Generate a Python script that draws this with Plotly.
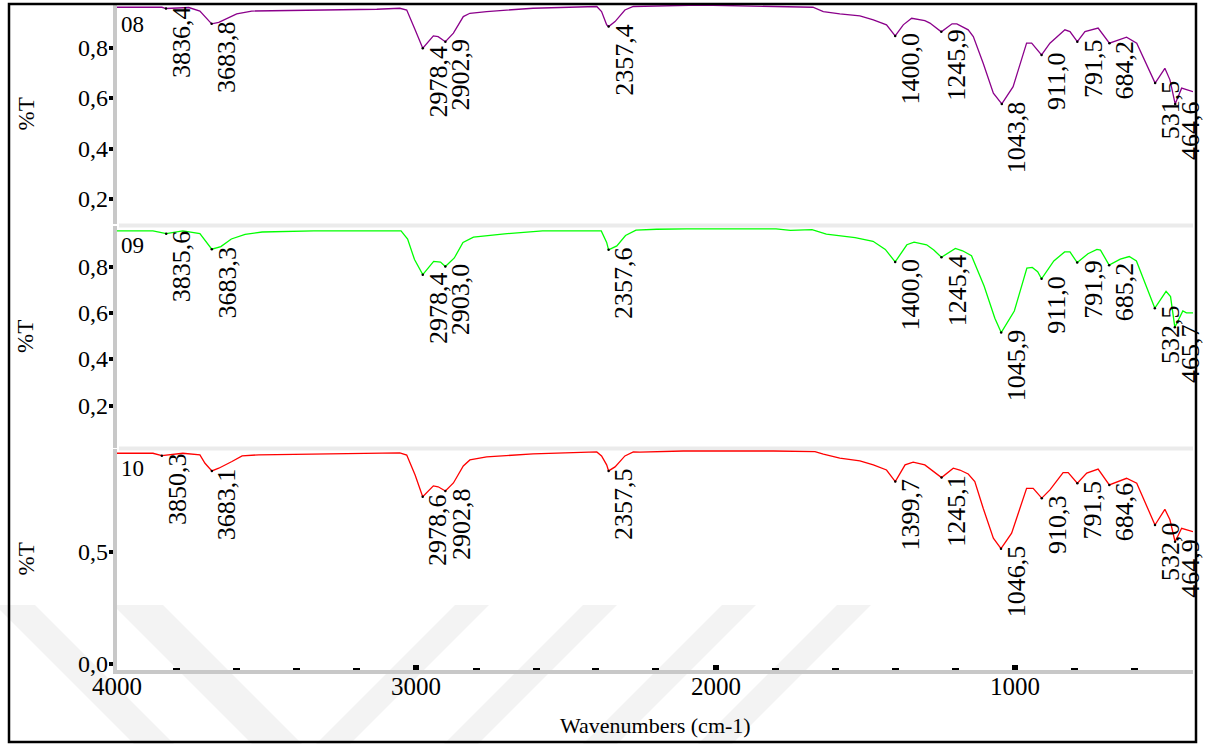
import plotly.graph_objects as go

W, H = 1205, 744
FONT = "'Liberation Serif', 'Times New Roman', Times, serif"

# ---- spectra: wavenumber (cm-1) and transmittance ----
wn_08 = [4000, 3850, 3836.4, 3760, 3723, 3683.8, 3660, 3600, 3550, 3400,
         3132, 3055, 3032, 3004, 2978.4, 2943, 2927, 2902.9, 2876, 2843,
         2821, 2765, 2610, 2397, 2381, 2364, 2357.4, 2336, 2303, 2275,
         2052, 1675, 1640, 1585, 1518, 1473, 1429, 1400.0, 1373, 1345,
         1301, 1284, 1245.9, 1210, 1194, 1156, 1139, 1106, 1072, 1043.8,
         1006, 961, 944, 911.0, 883, 833, 816, 791.5, 766, 722,
         684.2, 627, 593, 531.5, 499, 482, 464.6, 443, 405]
t_08 = [0.963, 0.963, 0.958, 0.962, 0.948, 0.897, 0.903, 0.937, 0.948, 0.950,
        0.955, 0.959, 0.952, 0.873, 0.800, 0.849, 0.846, 0.826, 0.860, 0.926,
        0.939, 0.946, 0.959, 0.966, 0.946, 0.893, 0.886, 0.906, 0.952, 0.966,
        0.972, 0.963, 0.946, 0.937, 0.929, 0.913, 0.893, 0.849, 0.893, 0.919,
        0.910, 0.900, 0.865, 0.897, 0.897, 0.873, 0.846, 0.740, 0.621, 0.578,
        0.647, 0.820, 0.820, 0.773, 0.820, 0.873, 0.866, 0.826, 0.866, 0.880,
        0.820, 0.844, 0.820, 0.661, 0.720, 0.674, 0.578, 0.641, 0.627]

wn_09 = [4000, 3880, 3835.6, 3780, 3723, 3683.3, 3653, 3618, 3572, 3515,
         3342, 3051, 3029, 3006, 2978.4, 2942, 2919, 2903.0, 2873, 2844,
         2809, 2705, 2578, 2382, 2364, 2357.6, 2330, 2301, 2266, 2197,
         2097, 1798, 1750, 1678, 1630, 1534, 1474, 1433, 1400.0, 1361,
         1337, 1295, 1271, 1245.4, 1199, 1175, 1145, 1103, 1067, 1045.9,
         1002, 960, 942, 924, 911.0, 870, 834, 816, 791.9, 756,
         726, 714, 685.2, 648, 618, 594, 532.5, 495, 480, 465.7,
         439, 427, 405]
t_09 = [0.955, 0.955, 0.943, 0.955, 0.943, 0.876, 0.887, 0.920, 0.940, 0.950,
        0.955, 0.955, 0.920, 0.831, 0.766, 0.823, 0.820, 0.801, 0.838, 0.905,
        0.928, 0.942, 0.955, 0.955, 0.905, 0.873, 0.890, 0.935, 0.958, 0.962,
        0.964, 0.964, 0.957, 0.960, 0.941, 0.926, 0.910, 0.875, 0.821, 0.895,
        0.906, 0.895, 0.872, 0.841, 0.879, 0.869, 0.848, 0.717, 0.578, 0.516,
        0.609, 0.794, 0.797, 0.779, 0.748, 0.825, 0.864, 0.864, 0.818, 0.856,
        0.875, 0.872, 0.807, 0.833, 0.844, 0.825, 0.621, 0.694, 0.671, 0.539,
        0.609, 0.601, 0.601]

wn_10 = [4000, 3880, 3850.3, 3780, 3723, 3706, 3683.1, 3660, 3616, 3582,
         3526, 3392, 3055, 3032, 3004, 2978.6, 2943, 2927, 2902.8, 2876,
         2843, 2821, 2765, 2610, 2397, 2381, 2364, 2357.5, 2336, 2303,
         2275, 2253, 2108, 1807, 1668, 1640, 1585, 1518, 1473, 1429,
         1399.7, 1367, 1340, 1301, 1278, 1245.1, 1206, 1184, 1156, 1134,
         1106, 1072, 1046.5, 1011, 961, 939, 910.3, 883, 839, 822,
         791.5, 760, 722, 684.6, 627, 593, 532.0, 499, 482, 464.9,
         443, 405]
t_10 = [0.943, 0.943, 0.932, 0.943, 0.936, 0.898, 0.864, 0.876, 0.906, 0.931,
        0.936, 0.939, 0.945, 0.935, 0.846, 0.748, 0.797, 0.793, 0.774, 0.810,
        0.886, 0.913, 0.927, 0.940, 0.949, 0.931, 0.891, 0.864, 0.882, 0.931,
        0.949, 0.948, 0.953, 0.953, 0.950, 0.939, 0.921, 0.909, 0.891, 0.868,
        0.816, 0.891, 0.903, 0.891, 0.868, 0.834, 0.876, 0.868, 0.850, 0.816,
        0.697, 0.563, 0.516, 0.585, 0.786, 0.786, 0.742, 0.779, 0.856, 0.856,
        0.809, 0.854, 0.872, 0.801, 0.831, 0.809, 0.622, 0.692, 0.645, 0.547,
        0.607, 0.592]

# labelled band positions
peaks_08 = [3836.4, 3683.8, 2978.4, 2902.9, 2357.4, 1400.0, 1245.9, 1043.8,
            911.0, 791.5, 684.2, 531.5, 464.6]
peaks_09 = [3835.6, 3683.3, 2978.4, 2903.0, 2357.6, 1400.0, 1245.4, 1045.9,
            911.0, 791.9, 685.2, 532.5, 465.7]
peaks_10 = [3850.3, 3683.1, 2978.6, 2902.8, 2357.5, 1399.7, 1245.1, 1046.5,
            910.3, 791.5, 684.6, 532.0, 464.9]

# axis ticks
x_major = [4000, 3000, 2000, 1000]
x_minor = [3800, 3600, 3400, 3200, 2800, 2600, 2400, 2200,
           1800, 1600, 1400, 1200, 800, 600]
y_ticks_upper = [0.2, 0.4, 0.6, 0.8]
y_ticks_lower = [0.0, 0.5]


def dec(v):
    return f"{v:.1f}".replace(".", ",")


def paper_x(p):
    return p / W


def paper_y(p):
    return 1 - p / H


def txt(size):
    return dict(family=FONT, size=size, color="black")


# panels: (name, wn, T, peaks, colour, y axis id, y range, y domain px, ticks)
panels = [
    ("08", wn_08, t_08, peaks_08, "#8b008b", "y3", [0.100, 0.972], (5, 224), y_ticks_upper),
    ("09", wn_09, t_09, peaks_09, "#00ff00", "y2", [0.0175, 0.976], (226, 448), y_ticks_upper),
    ("10", wn_10, t_10, peaks_10, "#ff0000", "y", [-0.027, 0.962], (449, 670), y_ticks_lower),
]

fig = go.Figure()
annotations = []
layout_axes = {}

for name, wn, tt, peaks, colour, yid, yrange, (ptop, pbot), yt in panels:
    fig.add_trace(go.Scatter(x=wn, y=tt, mode="lines", yaxis=yid, xaxis="x",
                             line=dict(color=colour, width=1.3),
                             showlegend=False, hoverinfo="skip"))
    lookup = dict(zip(wn, tt))
    py = [lookup[p] for p in peaks]
    fig.add_trace(go.Scatter(x=peaks, y=py, mode="markers", yaxis=yid, xaxis="x",
                             marker=dict(color="black", size=2.5),
                             showlegend=False, hoverinfo="skip"))
    for p, v in zip(peaks, py):
        annotations.append(dict(x=p, y=v, xref="x", yref=yid, text=dec(p),
                                showarrow=False, textangle=-90,
                                xanchor="left", yanchor="top",
                                xshift=-1, yshift=5, font=txt(26)))
    key = "yaxis" if yid == "y" else "yaxis" + yid[1:]
    layout_axes[key] = dict(
        domain=[paper_y(pbot), paper_y(ptop)], range=yrange, anchor="x",
        automargin=False,
        showgrid=False, zeroline=False, showline=True, linecolor="#c8c8c8",
        linewidth=4, ticks="outside", ticklen=4, tickwidth=4, tickcolor="black",
        tickvals=yt, showticklabels=False,
    )
    # tick labels with decimal comma
    for v in yt:
        annotations.append(dict(x=paper_x(110), y=v, xref="paper", yref=yid,
                                text=dec(v), showarrow=False,
                                xanchor="right", yanchor="middle", font=txt(24)))
    # sample name in the panel's top-left corner
    annotations.append(dict(x=paper_x(119), y=paper_y(ptop + 5), xref="paper",
                            yref="paper", text=name, showarrow=False,
                            xanchor="left", yanchor="top", font=txt(23)))
    # %T axis label
    annotations.append(dict(x=paper_x(26), y=paper_y((ptop + pbot) / 2),
                            xref="paper", yref="paper", text="%T",
                            showarrow=False, textangle=-90,
                            xanchor="center", yanchor="middle", font=txt(23)))

for v in x_major:
    annotations.append(dict(x=v, y=paper_y(686.5), xref="x", yref="paper",
                            text=str(v), showarrow=False,
                            xanchor="center", yanchor="middle", font=txt(25)))

annotations.append(dict(x=paper_x(655), y=paper_y(725), xref="paper", yref="paper",
                        text="Wavenumbers (cm-1)", showarrow=False,
                        xanchor="center", yanchor="middle", font=txt(22)))

shapes = []
# faint diagonal watermark bands behind the plot
bands = [(-5, 35, 1), (113, 163, 1), (455, 489, -1), (583, 617, -1),
         (722, 756, -1), (837, 871, -1)]
for x0, x1, d in bands:
    dy = 744 - 605
    pts = [(x0, 605), (x1, 605), (x1 + d * dy, 744), (x0 + d * dy, 744)]
    path = "M " + " L ".join(f"{paper_x(a):.5f},{paper_y(b):.5f}" for a, b in pts) + " Z"
    shapes.append(dict(type="path", xref="paper", yref="paper", path=path,
                       fillcolor="#f3f3f3", line=dict(width=0), layer="below"))

# light separators between the stacked panels
for sy in (225.5, 448.5):
    shapes.append(dict(type="line", xref="paper", yref="paper",
                       x0=paper_x(119), x1=paper_x(1193), y0=paper_y(sy), y1=paper_y(sy),
                       line=dict(color="#ebebeb", width=4), layer="below"))

# outer frame
shapes.append(dict(type="rect", xref="paper", yref="paper",
                   x0=paper_x(9), x1=paper_x(1196), y0=paper_y(742), y1=paper_y(4),
                   line=dict(color="black", width=2.5), layer="above"))

fig.update_layout(
    width=W, height=H, margin=dict(l=0, r=0, t=0, b=0, autoexpand=False),
    paper_bgcolor="white", plot_bgcolor="rgba(0,0,0,0)",
    xaxis=dict(domain=[paper_x(117), paper_x(1193)], range=[4000, 405],
               anchor="y", automargin=False,
               showgrid=False, zeroline=False, showline=True,
               linecolor="#c8c8c8", linewidth=4,
               ticks="inside", ticklen=5, tickwidth=6, tickcolor="black",
               tickvals=x_major, showticklabels=False,
               minor=dict(tickvals=x_minor, ticks="inside", ticklen=2,
                          tickwidth=7, tickcolor="black")),
    annotations=annotations, shapes=shapes,
    **layout_axes,
)

fig.write_html("out.html")
